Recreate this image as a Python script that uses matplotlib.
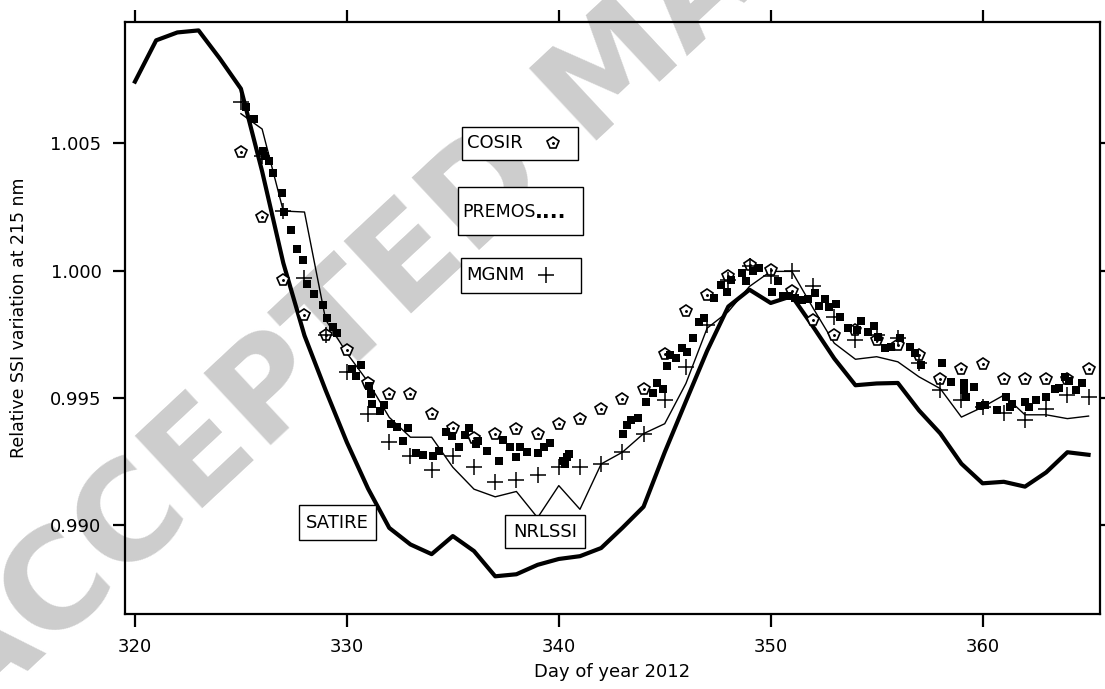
import matplotlib
matplotlib.use('Agg')
import matplotlib.pyplot as plt
import matplotlib.patches as mpatches

plt.rcParams['font.family'] = ['DejaVu Sans']

# SATIRE (thick line)
satire_day = list(range(320, 366))
satire_val = [1.00742, 1.00904, 1.00935, 1.00943, 1.00833, 1.00714, 1.00390, 1.00030,
              0.99745, 0.99530, 0.99326, 0.99144, 0.98990, 0.98925, 0.98887, 0.98958,
              0.98899, 0.98800, 0.98808, 0.98845, 0.98868, 0.98879, 0.98911, 0.98990,
              0.99073, 0.99287, 0.99487, 0.99685, 0.99859, 0.99925, 0.99873, 0.99900,
              0.99780, 0.99655, 0.99550, 0.99557, 0.99559, 0.99451, 0.99361, 0.99242,
              0.99165, 0.99171, 0.99152, 0.99208, 0.99287, 0.99277]

# NRLSSI (thin line)
nrl_day = list(range(325, 366))
nrl_val = [1.00616, 1.00556, 1.00234, 1.00230, 0.99807, 0.99676, 0.99563, 0.99424,
           0.99346, 0.99346, 0.99228, 0.99142, 0.99112, 0.99133, 0.99030, 0.99156,
           0.99063, 0.99241, 0.99287, 0.99360, 0.99399, 0.99557, 0.99774, 0.99839,
           0.99938, 0.99997, 0.99997, 0.99853, 0.99715, 0.99652, 0.99662, 0.99642,
           0.99583, 0.99537, 0.99425, 0.99464, 0.99511, 0.99434, 0.99434, 0.99419,
           0.99429]

# COSIR (open pentagons)
cosir_day = list(range(325, 366))
cosir_val = [1.00464, 1.00212, 0.99962, 0.99826, 0.99747, 0.99688, 0.99557, 0.99515,
             0.99515, 0.99436, 0.99382, 0.99344, 0.99360, 0.99379, 0.99360, 0.99399,
             0.99419, 0.99455, 0.99495, 0.99534, 0.99671, 0.99843, 0.99905, 0.99980,
             1.00024, 1.00001, 0.99921, 0.99807, 0.99747, 0.99767, 0.99728, 0.99708,
             0.99669, 0.99573, 0.99612, 0.99633, 0.99573, 0.99573, 0.99573, 0.99573,
             0.99612]

# MGNM (plus signs)
mgnm_day = list(range(325, 366))
mgnm_val = [1.00662, 1.00451, 1.00234, 0.99971, 0.99747, 0.99603, 0.99438, 0.99326,
            0.99271, 0.99217, 0.99271, 0.99228, 0.99169, 0.99178, 0.99198, 0.99228,
            0.99228, 0.99241, 0.99287, 0.99360, 0.99494, 0.99622, 0.99787, 0.99964,
            1.00020, 0.99978, 1.00000, 0.99938, 0.99817, 0.99728, 0.99747, 0.99734,
            0.99636, 0.99530, 0.99494, 0.99464, 0.99442, 0.99415, 0.99458, 0.99511,
            0.99502]

# PREMOS (filled squares, several per day)
premos_day = [325.23, 325.63, 326.03, 326.13, 326.33, 326.53, 326.94, 327.04, 327.34, 327.64,
              327.94, 328.14, 328.44, 328.85, 329.05, 329.35, 329.55, 330.25, 330.45, 330.65,
              331.06, 331.16, 331.2, 331.56, 331.76, 332.06, 332.36, 332.67, 332.87, 333.27,
              333.57, 334.07, 334.37, 334.68, 334.98, 335.28, 335.58, 335.78, 336.08, 336.18,
              336.59, 337.19, 337.39, 337.69, 337.99, 338.19, 338.5, 339.0, 339.3, 339.6,
              340.2, 340.3, 340.4, 340.5, 343.02, 343.22, 343.42, 343.72, 344.12, 344.43,
              344.63, 344.93, 345.13, 345.23, 345.53, 345.83, 346.03, 346.34, 346.64, 346.84,
              347.34, 347.64, 347.94, 348.15, 348.65, 348.85, 349.15, 349.45, 350.05, 350.36,
              350.56, 350.86, 351.16, 351.46, 351.76, 352.07, 352.27, 352.57, 352.77, 353.07,
              353.27, 353.67, 354.08, 354.28, 354.58, 354.88, 355.08, 355.38, 355.68, 356.09,
              356.59, 356.79, 357.09, 358.1, 358.5, 359.1, 359.1, 359.2, 359.6, 359.9,
              360.1, 360.7, 361.1, 361.3, 361.4, 362.0, 362.2, 362.5, 363.0, 363.4,
              363.6, 363.9, 364.1, 364.4, 364.7]
premos_val = [1.00642, 1.00596, 1.00471, 1.00451, 1.00431, 1.00383, 1.00304, 1.00230, 1.00158, 1.00086,
              1.00043, 0.99948, 0.99907, 0.99866, 0.99815, 0.99780, 0.99757, 0.99612, 0.99586, 0.99629,
              0.99546, 0.99517, 0.99478, 0.99448, 0.99471, 0.99396, 0.99386, 0.99333, 0.99383, 0.99283,
              0.99278, 0.99274, 0.99290, 0.99366, 0.99349, 0.99309, 0.99353, 0.99382, 0.99320, 0.99333,
              0.99291, 0.99254, 0.99336, 0.99307, 0.99270, 0.99307, 0.99287, 0.99283, 0.99309, 0.99322,
              0.99254, 0.99242, 0.99267, 0.99280, 0.99357, 0.99392, 0.99415, 0.99423, 0.99484, 0.99520,
              0.99559, 0.99537, 0.99625, 0.99669, 0.99658, 0.99695, 0.99682, 0.99734, 0.99800, 0.99813,
              0.99892, 0.99945, 0.99918, 0.99964, 0.99991, 0.99958, 0.99997, 1.00011, 0.99918, 0.99958,
              0.99901, 0.99901, 0.99892, 0.99886, 0.99888, 0.99912, 0.99862, 0.99888, 0.99857, 0.99870,
              0.99817, 0.99774, 0.99767, 0.99804, 0.99760, 0.99783, 0.99738, 0.99695, 0.99701, 0.99734,
              0.99699, 0.99675, 0.99629, 0.99636, 0.99563, 0.99557, 0.99530, 0.99504, 0.99543, 0.99467,
              0.99474, 0.99454, 0.99504, 0.99464, 0.99478, 0.99484, 0.99464, 0.99491, 0.99504, 0.99537,
              0.99541, 0.99581, 0.99566, 0.99530, 0.99559]

xticks = [320, 330, 340, 350, 360]
yticks = [0.990, 0.995, 1.000, 1.005]

fig = plt.figure(figsize=(11.05, 6.89), dpi=100)
ax = fig.add_axes([125 / 1105, 1 - 614 / 689, 975 / 1105, 592 / 689])
ax.set_facecolor('none')

# watermark behind everything
fig.text(-0.027, -0.052, 'ACCEPTED MANUSCRIPT', rotation=43, rotation_mode='anchor',
         ha='left', va='baseline', fontsize=98, fontweight='bold', color='#cdcdcd',
         zorder=-5)

# curves and markers
ax.plot(satire_day, satire_val, '-', color='black', lw=3.0, zorder=3)
ax.plot(nrl_day, nrl_val, '-', color='black', lw=1.0, zorder=3)
ax.plot(cosir_day, cosir_val, 'p', ms=8.5, mfc='white', mec='black', mew=1.2, zorder=4)
ax.plot(cosir_day, cosir_val, '.', ms=2.2, color='black', zorder=4)
ax.plot(premos_day, premos_val, 's', ms=5.5, color='black', mew=0, zorder=5)
ax.plot(mgnm_day, mgnm_val, '+', ms=11, mew=1.1, color='black', zorder=6)

ax.set_xlim(319.53, 365.54)
ax.set_ylim(0.98652, 1.00976)
ax.set_xticks(xticks)
ax.set_yticks(yticks)
ax.set_yticklabels(['%.3f' % v for v in yticks])
ax.tick_params(direction='out', length=9, width=1.6, top=True, right=True,
               labelsize=13, pad=8)
for s in ax.spines.values():
    s.set_linewidth(1.6)

ax.set_xlabel('Day of year 2012', fontsize=13, labelpad=5)
ax.set_ylabel('Relative SSI variation at 215 nm', fontsize=12.5, labelpad=16)


# label boxes (axes fraction coordinates)
def label_box(x0, y0, x1, y1):
    r = mpatches.Rectangle((x0, y0), x1 - x0, y1 - y0, transform=ax.transAxes,
                           fc='white', ec='black', lw=1.0, zorder=7)
    ax.add_patch(r)


label_box(0.3456, 0.7669, 0.4646, 0.8226)
ax.text(0.3505, 0.7948, 'COSIR', transform=ax.transAxes, ha='left', va='center',
        fontsize=13, zorder=8)
ax.plot([0.439], [0.7955], 'p', ms=8.5, mfc='white', mec='black', mew=1.2,
        transform=ax.transAxes, zorder=8)
ax.plot([0.439], [0.7955], '.', ms=2.2, color='black', transform=ax.transAxes, zorder=8)

label_box(0.3415, 0.6402, 0.4697, 0.7213)
ax.text(0.3458, 0.679, 'PREMOS', transform=ax.transAxes, ha='left', va='center',
        fontsize=12.5, zorder=8)
ax.text(0.4200, 0.679, '....', transform=ax.transAxes, ha='left', va='center',
        fontsize=15, fontweight='bold', zorder=8)

label_box(0.3446, 0.5422, 0.4677, 0.6014)
ax.text(0.3497, 0.5718, 'MGNM', transform=ax.transAxes, ha='left', va='center',
        fontsize=13, zorder=8)
ax.plot([0.4318], [0.5725], '+', ms=11, mew=1.1, color='black',
        transform=ax.transAxes, zorder=8)

label_box(0.1785, 0.125, 0.2574, 0.1841)
ax.text(0.218, 0.1545, 'SATIRE', transform=ax.transAxes, ha='center', va='center',
        fontsize=13, zorder=8)

label_box(0.3897, 0.1115, 0.4718, 0.1672)
ax.text(0.4308, 0.1393, 'NRLSSI', transform=ax.transAxes, ha='center', va='center',
        fontsize=13, zorder=8)

fig.savefig('out.png', dpi=100)
